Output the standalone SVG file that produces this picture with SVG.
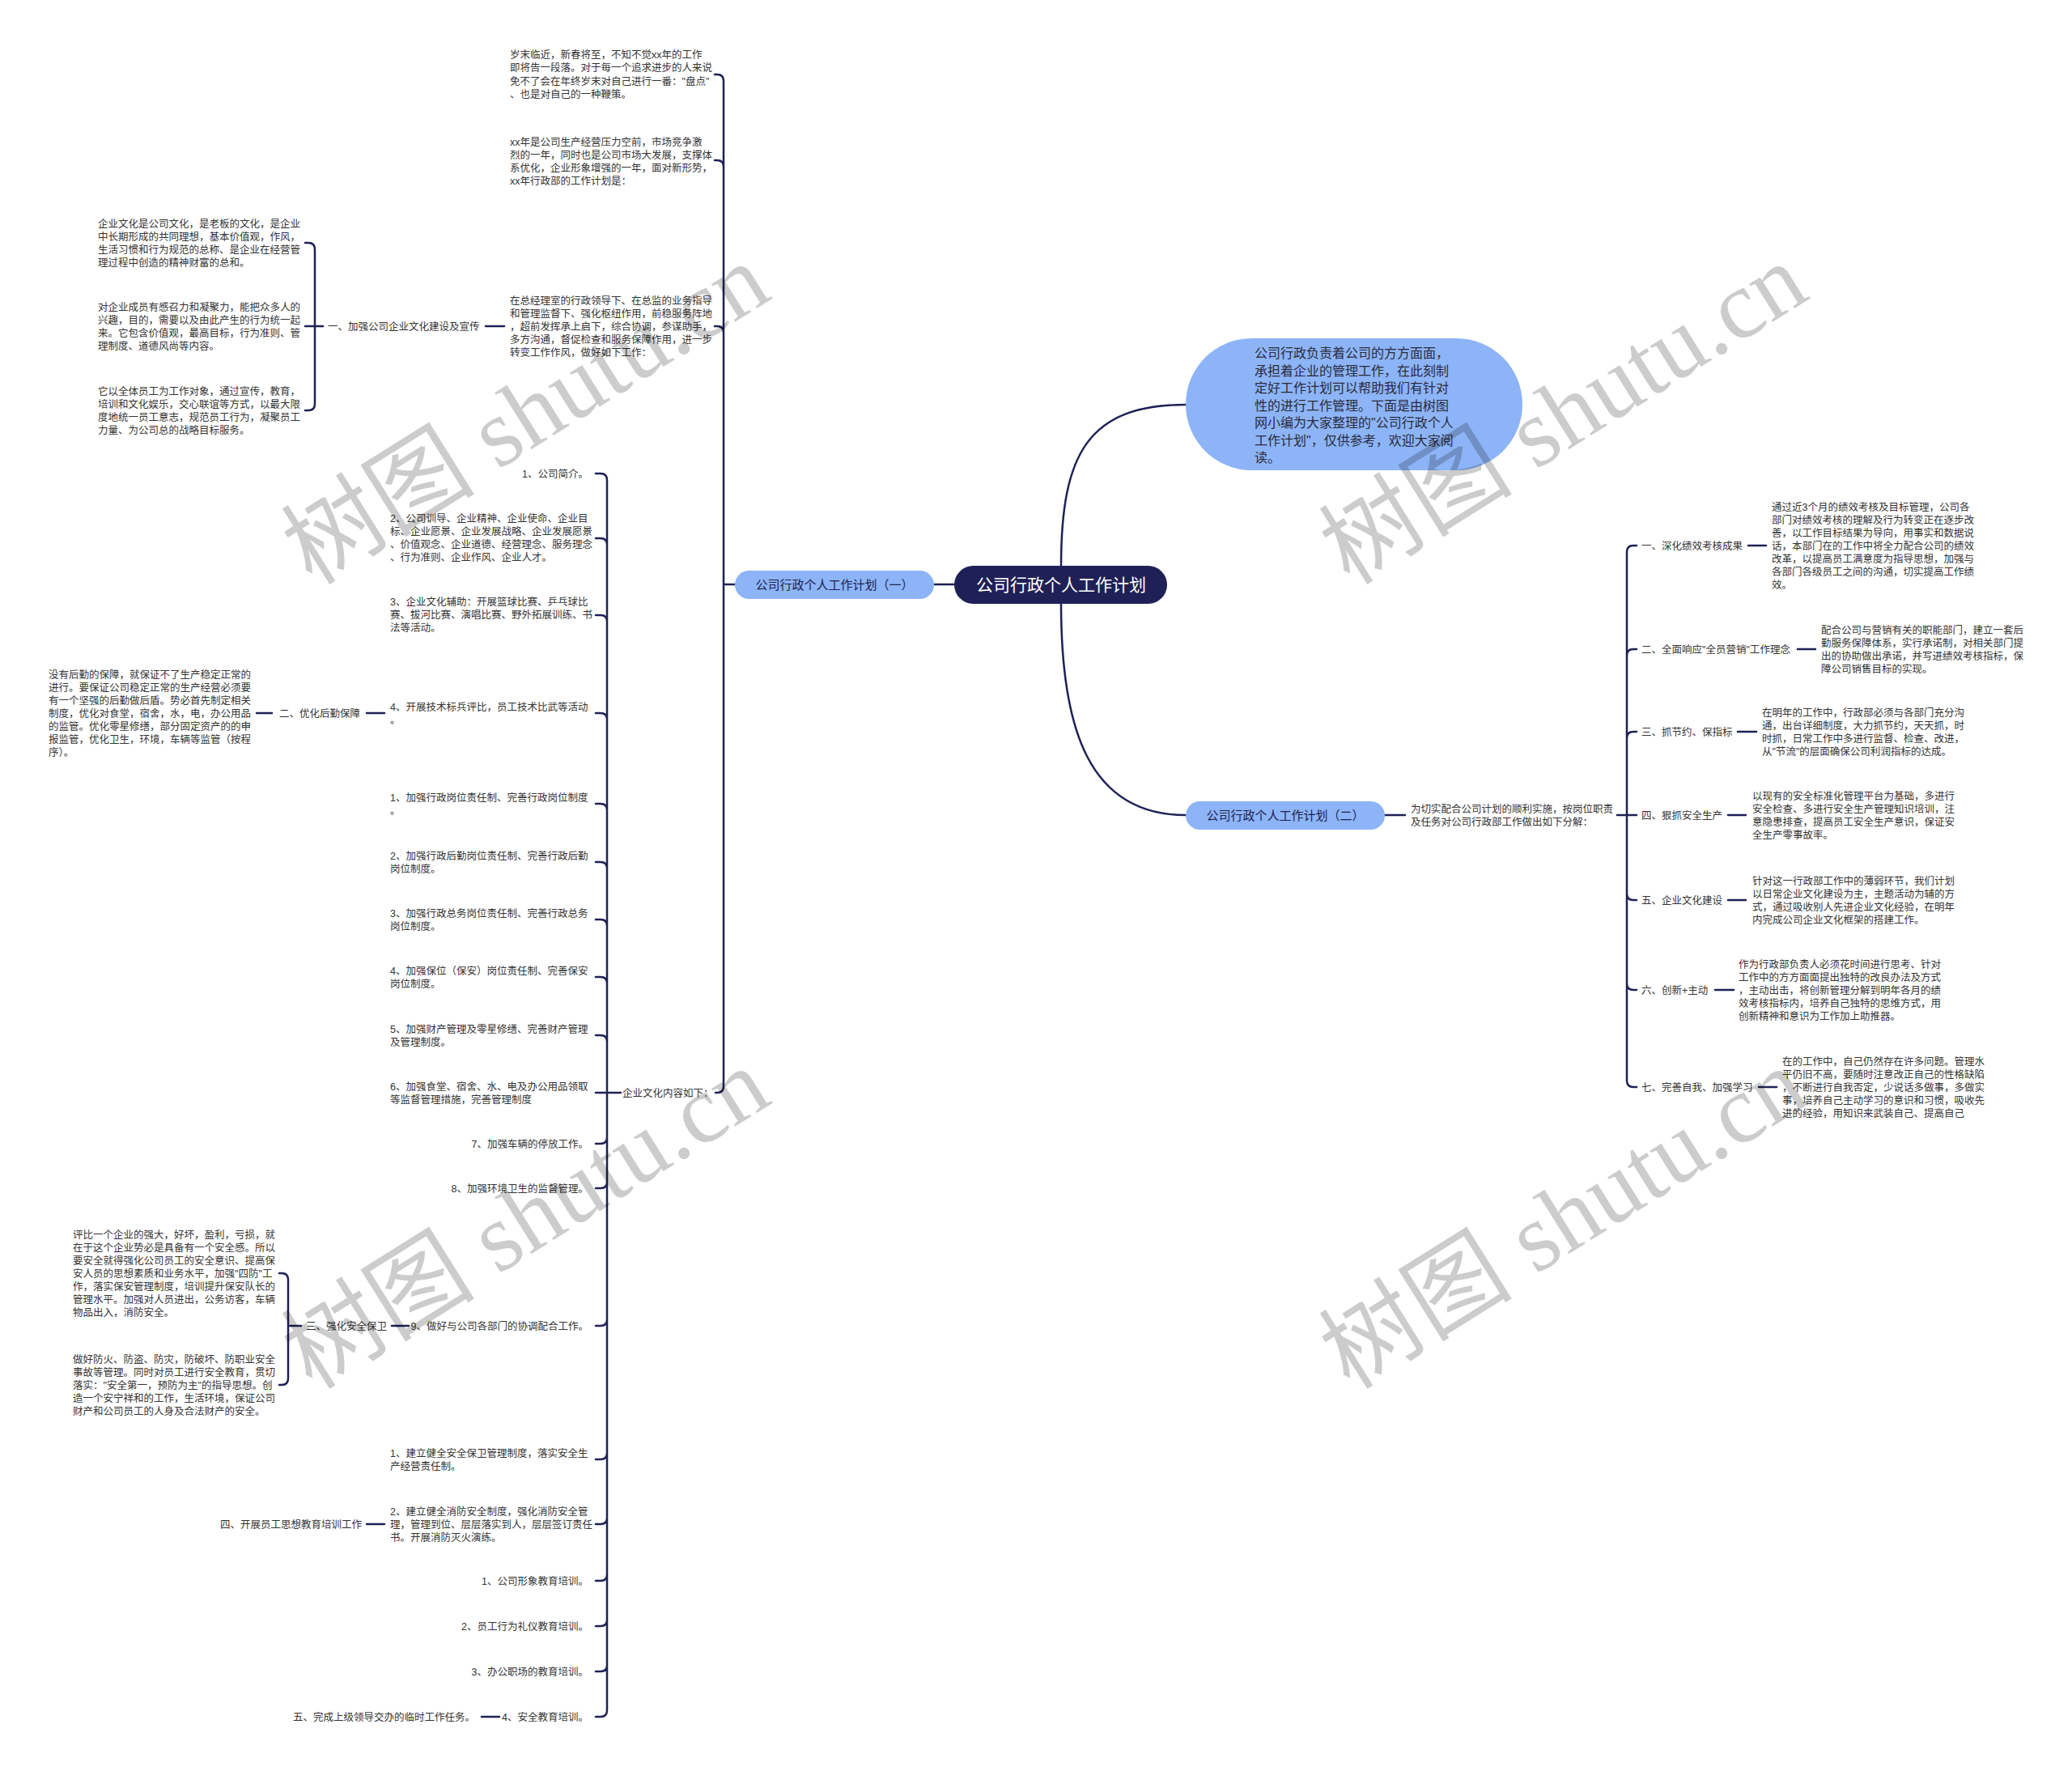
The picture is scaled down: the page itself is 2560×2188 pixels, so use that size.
<svg xmlns="http://www.w3.org/2000/svg" width="2560" height="2188" viewBox="0 0 2560 2188">
<style>
.t{font-family:"Liberation Sans","Noto Sans CJK SC",sans-serif;font-size:12.5px;fill:#333}
.e{text-anchor:end}
.c{fill:none;stroke:#1f2156;stroke-width:2.5;stroke-linecap:round}
.nt{font-family:"Liberation Sans","Noto Sans CJK SC",sans-serif;font-size:15px;fill:#20224f;text-anchor:middle}
.wm{font-family:"Liberation Serif","Noto Sans CJK SC",serif;font-size:120px;fill:#000;fill-opacity:0.2;text-anchor:middle}
</style>
<rect width="2560" height="2188" fill="#fff"/>
<g id="connectors">
<path class="c" d="M1311 699 C1311 560 1345 500 1465 500"/>
<path class="c" d="M1311 746 C1311 900 1345 1007 1465 1007"/>
<path class="c" d="M1179 722 H1154"/>
<path class="c" d="M908 722 H894 M894 722 V100 Q894 92 886 92 H883 M894 722 V206 Q894 198 886 198 H883 M894 722 V411 Q894 403 886 403 H883 M894 722 V1342 Q894 1350 886 1350 H884"/>
<path class="c" d="M623 403 H600"/>
<path class="c" d="M399 403 H389 M389 403 V308 Q389 300 381 300 H377 M389 403 H377 M389 403 V499 Q389 507 381 507 H377"/>
<path class="c" d="M767 1350 H750 M750 1350 V593 Q750 585 742 585 H736 M750 1350 V673 Q750 665 742 665 H736 M750 1350 V768 Q750 760 742 760 H736 M750 1350 V889 Q750 881 742 881 H736 M750 1350 V1001 Q750 993 742 993 H736 M750 1350 V1073 Q750 1065 742 1065 H736 M750 1350 V1144 Q750 1136 742 1136 H736 M750 1350 V1215 Q750 1207 742 1207 H736 M750 1350 V1287 Q750 1279 742 1279 H736 M750 1350 H736 M750 1350 V1405 Q750 1413 742 1413 H736 M750 1350 V1460 Q750 1468 742 1468 H736 M750 1350 V1630 Q750 1638 742 1638 H736 M750 1350 V1795 Q750 1803 742 1803 H736 M750 1350 V1875 Q750 1883 742 1883 H736 M750 1350 V1945 Q750 1953 742 1953 H736 M750 1350 V2001 Q750 2009 742 2009 H736 M750 1350 V2057 Q750 2065 742 2065 H736 M750 1350 V2113 Q750 2121 742 2121 H736"/>
<path class="c" d="M475 881 H453"/>
<path class="c" d="M336 881 H317"/>
<path class="c" d="M505 1638 H484"/>
<path class="c" d="M372 1638 H356 M356 1638 V1581 Q356 1573 348 1573 H345 M356 1638 V1703 Q356 1711 348 1711 H345"/>
<path class="c" d="M475 1883 H453"/>
<path class="c" d="M617 2121 H595"/>
<path class="c" d="M1711 1007 H1736"/>
<path class="c" d="M1998 1007 H2010 M2010 1007 V682 Q2010 674 2018 674 H2022 M2010 1007 V810 Q2010 802 2018 802 H2022 M2010 1007 V912 Q2010 904 2018 904 H2022 M2010 1007 H2022 M2010 1007 V1104 Q2010 1112 2018 1112 H2022 M2010 1007 V1215 Q2010 1223 2018 1223 H2022 M2010 1007 V1335 Q2010 1343 2018 1343 H2022"/>
<path class="c" d="M2160 674 H2182 M2221 802 H2243 M2147 904 H2170 M2135 1007 H2157 M2135 1112 H2157 M2119 1223 H2142 M2173 1343 H2195"/>
</g>
<g id="root">
<rect x="1179" y="699" width="263" height="47" rx="23.5" fill="#1f2156"/>
<text x="1311" y="729.5" font-family="Liberation Sans,Noto Sans CJK SC,sans-serif" font-size="21" fill="#fff" text-anchor="middle">公司行政个人工作计划</text>
</g>
<g id="intro">
<rect x="1465" y="418" width="416" height="163" rx="81.5" fill="#8cb4f7"/>
<text font-family="Liberation Sans,Noto Sans CJK SC,sans-serif" font-size="16" fill="#2a2a3a">
<tspan x="1550" y="442">公司行政负责着公司的方方面面，</tspan>
<tspan x="1550" y="463.5">承担着企业的管理工作，在此刻制</tspan>
<tspan x="1550" y="485">定好工作计划可以帮助我们有针对</tspan>
<tspan x="1550" y="506.5">性的进行工作管理。下面是由树图</tspan>
<tspan x="1550" y="528">网小编为大家整理的"公司行政个人</tspan>
<tspan x="1550" y="549.5">工作计划"，仅供参考，欢迎大家阅</tspan>
<tspan x="1550" y="571">读。</tspan>
</text>
</g>
<g id="plan1">
<rect x="908" y="705" width="246" height="35" rx="17.5" fill="#8cb4f7"/>
<text class="nt" x="1031" y="727.5">公司行政个人工作计划（一）</text>
</g>
<g id="plan2">
<rect x="1465" y="990" width="246" height="35" rx="17.5" fill="#8cb4f7"/>
<text class="nt" x="1588" y="1012.5">公司行政个人工作计划（二）</text>
</g>
<g id="p1-text1"><text class="t"><tspan x="630" y="71.5">岁末临近，新春将至，不知不觉xx年的工作</tspan><tspan x="630" y="88">即将告一段落。对于每一个追求进步的人来说</tspan><tspan x="630" y="104.5">免不了会在年终岁末对自己进行一番："盘点"</tspan><tspan x="630" y="121">、也是对自己的一种鞭策。</tspan></text></g>
<g id="p1-text2"><text class="t"><tspan x="630" y="179.5">xx年是公司生产经营压力空前，市场竞争激</tspan><tspan x="630" y="195.5">烈的一年，同时也是公司市场大发展，支撑体</tspan><tspan x="630" y="211.5">系优化，企业形象增强的一年，面对新形势，</tspan><tspan x="630" y="227.5">xx年行政部的工作计划是：</tspan></text></g>
<g id="p1-text3"><text class="t"><tspan x="630" y="375.5">在总经理室的行政领导下、在总监的业务指导</tspan><tspan x="630" y="391.5">和管理监督下、强化枢纽作用，前稳服务阵地</tspan><tspan x="630" y="407.5">，超前发挥承上启下，综合协调，参谋助手，</tspan><tspan x="630" y="423.5">多方沟通，督促检查和服务保障作用，进一步</tspan><tspan x="630" y="439.5">转变工作作风，做好如下工作：</tspan></text></g>
<g id="culture-label"><text class="t" x="405" y="407.5">一、加强公司企业文化建设及宣传</text></g>
<g id="culture-1"><text class="t"><tspan x="121" y="280.5">企业文化是公司文化，是老板的文化，是企业</tspan><tspan x="121" y="296.5">中长期形成的共同理想，基本价值观，作风，</tspan><tspan x="121" y="312.5">生活习惯和行为规范的总称、是企业在经营管</tspan><tspan x="121" y="328.5">理过程中创造的精神财富的总和。</tspan></text></g>
<g id="culture-2"><text class="t"><tspan x="121" y="383.5">对企业成员有感召力和凝聚力，能把众多人的</tspan><tspan x="121" y="399.5">兴趣，目的，需要以及由此产生的行为统一起</tspan><tspan x="121" y="415.5">来。它包含价值观，最高目标，行为准则、管</tspan><tspan x="121" y="431.5">理制度、道德风尚等内容。</tspan></text></g>
<g id="culture-3"><text class="t"><tspan x="121" y="487.5">它以全体员工为工作对象，通过宣传，教育，</tspan><tspan x="121" y="503.5">培训和文化娱乐，交心联谊等方式，以最大限</tspan><tspan x="121" y="519.5">度地统一员工意志，规范员工行为，凝聚员工</tspan><tspan x="121" y="535.5">力量、为公司总的战略目标服务。</tspan></text></g>
<g id="culture-content"><text class="t" x="769" y="1354.5">企业文化内容如下：</text></g>
<g id="item-a1"><text class="t e" x="727" y="589.5">1、公司简介。</text></g>
<g id="item-a2"><text class="t"><tspan x="482" y="644.5">2、公司训导、企业精神、企业使命、企业目</tspan><tspan x="482" y="660.5">标、企业愿景、企业发展战略、企业发展愿景</tspan><tspan x="482" y="676.5">、价值观念、企业道德、经营理念、服务理念</tspan><tspan x="482" y="692.5">、行为准则、企业作风、企业人才。</tspan></text></g>
<g id="item-a3"><text class="t"><tspan x="482" y="747.5">3、企业文化辅助：开展篮球比赛、乒乓球比</tspan><tspan x="482" y="763.5">赛、拔河比赛、演唱比赛、野外拓展训练、书</tspan><tspan x="482" y="779.5">法等活动。</tspan></text></g>
<g id="item-a4"><text class="t"><tspan x="482" y="877.5">4、开展技术标兵评比，员工技术比武等活动</tspan><tspan x="482" y="893.5">。</tspan></text></g>
<g id="logistics-label"><text class="t" x="345" y="885.5">二、优化后勤保障</text></g>
<g id="logistics-text"><text class="t"><tspan x="60" y="837.5">没有后勤的保障，就保证不了生产稳定正常的</tspan><tspan x="60" y="853.5">进行。要保证公司稳定正常的生产经营必须要</tspan><tspan x="60" y="869.5">有一个坚强的后勤做后盾。势必首先制定相关</tspan><tspan x="60" y="885.5">制度，优化对食堂，宿舍，水，电，办公用品</tspan><tspan x="60" y="901.5">的监管。优化零星修缮，部分固定资产的的申</tspan><tspan x="60" y="917.5">报监管，优化卫生，环境，车辆等监管（按程</tspan><tspan x="60" y="933.5">序）。</tspan></text></g>
<g id="item-b1"><text class="t"><tspan x="482" y="989.5">1、加强行政岗位责任制、完善行政岗位制度</tspan><tspan x="482" y="1005.5">。</tspan></text></g>
<g id="item-b2"><text class="t"><tspan x="482" y="1061.5">2、加强行政后勤岗位责任制、完善行政后勤</tspan><tspan x="482" y="1077.5">岗位制度。</tspan></text></g>
<g id="item-b3"><text class="t"><tspan x="482" y="1132.5">3、加强行政总务岗位责任制、完善行政总务</tspan><tspan x="482" y="1148.5">岗位制度。</tspan></text></g>
<g id="item-b4"><text class="t"><tspan x="482" y="1203.5">4、加强保位（保安）岗位责任制、完善保安</tspan><tspan x="482" y="1219.5">岗位制度。</tspan></text></g>
<g id="item-b5"><text class="t"><tspan x="482" y="1275.5">5、加强财产管理及零星修缮、完善财产管理</tspan><tspan x="482" y="1291.5">及管理制度。</tspan></text></g>
<g id="item-b6"><text class="t"><tspan x="482" y="1346.5">6、加强食堂、宿舍、水、电及办公用品领取</tspan><tspan x="482" y="1362.5">等监督管理措施，完善管理制度</tspan></text></g>
<g id="item-b7"><text class="t e" x="727" y="1417.5">7、加强车辆的停放工作。</text></g>
<g id="item-b8"><text class="t e" x="727" y="1472.5">8、加强环境卫生的监督管理。</text></g>
<g id="item-b9"><text class="t e" x="727" y="1642.5">9、做好与公司各部门的协调配合工作。</text></g>
<g id="security-label"><text class="t" x="378" y="1642.5">三、强化安全保卫</text></g>
<g id="security-1"><text class="t"><tspan x="90" y="1529.5">评比一个企业的强大，好坏，盈利，亏损，就</tspan><tspan x="90" y="1545.5">在于这个企业势必是具备有一个安全感。所以</tspan><tspan x="90" y="1561.5">要安全就得强化公司员工的安全意识、提高保</tspan><tspan x="90" y="1577.5">安人员的思想素质和业务水平，加强"四防"工</tspan><tspan x="90" y="1593.5">作，落实保安管理制度，培训提升保安队长的</tspan><tspan x="90" y="1609.5">管理水平。加强对人员进出，公务访客，车辆</tspan><tspan x="90" y="1625.5">物品出入，消防安全。</tspan></text></g>
<g id="security-2"><text class="t"><tspan x="90" y="1683.5">做好防火、防盗、防灾，防破坏、防职业安全</tspan><tspan x="90" y="1699.5">事故等管理。同时对员工进行安全教育，贯切</tspan><tspan x="90" y="1715.5">落实："安全第一，预防为主"的指导思想。创</tspan><tspan x="90" y="1731.5">造一个安宁祥和的工作，生活环境，保证公司</tspan><tspan x="90" y="1747.5">财产和公司员工的人身及合法财产的安全。</tspan></text></g>
<g id="item-c1"><text class="t"><tspan x="482" y="1799.5">1、建立健全安全保卫管理制度，落实安全生</tspan><tspan x="482" y="1815.5">产经营责任制。</tspan></text></g>
<g id="item-c2"><text class="t"><tspan x="482" y="1871.5">2、建立健全消防安全制度，强化消防安全管</tspan><tspan x="482" y="1887.5">理，管理到位、层层落实到人，层层签订责任</tspan><tspan x="482" y="1903.5">书。开展消防灭火演练。</tspan></text></g>
<g id="training-label"><text class="t" x="272" y="1887.5">四、开展员工思想教育培训工作</text></g>
<g id="item-d1"><text class="t e" x="727" y="1957.5">1、公司形象教育培训。</text></g>
<g id="item-d2"><text class="t e" x="727" y="2013.5">2、员工行为礼仪教育培训。</text></g>
<g id="item-d3"><text class="t e" x="727" y="2069.5">3、办公职场的教育培训。</text></g>
<g id="item-d4"><text class="t e" x="727" y="2125.5">4、安全教育培训。</text></g>
<g id="task-label"><text class="t" x="362" y="2125.5">五、完成上级领导交办的临时工作任务。</text></g>
<g id="p2-text"><text class="t"><tspan x="1743" y="1003.5">为切实配合公司计划的顺利实施，按岗位职责</tspan><tspan x="1743" y="1019.5">及任务对公司行政部工作做出如下分解：</tspan></text></g>
<g id="r1"><text class="t" x="2028" y="678.5">一、深化绩效考核成果</text><text class="t"><tspan x="2189" y="630.5">通过近3个月的绩效考核及目标管理，公司各</tspan><tspan x="2189" y="646.5">部门对绩效考核的理解及行为转变正在逐步改</tspan><tspan x="2189" y="662.5">善，以工作目标结果为导向，用事实和数据说</tspan><tspan x="2189" y="678.5">话，本部门在的工作中将全力配合公司的绩效</tspan><tspan x="2189" y="694.5">改革，以提高员工满意度为指导思想，加强与</tspan><tspan x="2189" y="710.5">各部门各级员工之间的沟通，切实提高工作绩</tspan><tspan x="2189" y="726.5">效。</tspan></text></g>
<g id="r2"><text class="t" x="2028" y="806.5">二、全面响应"全员营销"工作理念</text><text class="t"><tspan x="2250" y="782.5">配合公司与营销有关的职能部门，建立一套后</tspan><tspan x="2250" y="798.5">勤服务保障体系，实行承诺制，对相关部门提</tspan><tspan x="2250" y="814.5">出的协助做出承诺，并写进绩效考核指标，保</tspan><tspan x="2250" y="830.5">障公司销售目标的实现。</tspan></text></g>
<g id="r3"><text class="t" x="2028" y="908.5">三、抓节约、保指标</text><text class="t"><tspan x="2177" y="884.5">在明年的工作中，行政部必须与各部门充分沟</tspan><tspan x="2177" y="900.5">通，出台详细制度，大力抓节约，天天抓，时</tspan><tspan x="2177" y="916.5">时抓，日常工作中多进行监督、检查、改进，</tspan><tspan x="2177" y="932.5">从"节流"的层面确保公司利润指标的达成。</tspan></text></g>
<g id="r4"><text class="t" x="2028" y="1011.5">四、狠抓安全生产</text><text class="t"><tspan x="2165" y="987.5">以现有的安全标准化管理平台为基础，多进行</tspan><tspan x="2165" y="1003.5">安全检查、多进行安全生产管理知识培训，注</tspan><tspan x="2165" y="1019.5">意隐患排查，提高员工安全生产意识，保证安</tspan><tspan x="2165" y="1035.5">全生产零事故率。</tspan></text></g>
<g id="r5"><text class="t" x="2028" y="1116.5">五、企业文化建设</text><text class="t"><tspan x="2165" y="1092.5">针对这一行政部工作中的薄弱环节，我们计划</tspan><tspan x="2165" y="1108.5">以日常企业文化建设为主，主题活动为辅的方</tspan><tspan x="2165" y="1124.5">式，通过吸收别人先进企业文化经验，在明年</tspan><tspan x="2165" y="1140.5">内完成公司企业文化框架的搭建工作。</tspan></text></g>
<g id="r6"><text class="t" x="2028" y="1227.5">六、创新+主动</text><text class="t"><tspan x="2148" y="1195.5">作为行政部负责人必须花时间进行思考、针对</tspan><tspan x="2148" y="1211.5">工作中的方方面面提出独特的改良办法及方式</tspan><tspan x="2148" y="1227.5">，主动出击，将创新管理分解到明年各月的绩</tspan><tspan x="2148" y="1243.5">效考核指标内，培养自己独特的思维方式，用</tspan><tspan x="2148" y="1259.5">创新精神和意识为工作加上助推器。</tspan></text></g>
<g id="r7"><text class="t" x="2028" y="1347.5">七、完善自我、加强学习</text><text class="t"><tspan x="2202" y="1315.5">在的工作中，自己仍然存在许多问题。管理水</tspan><tspan x="2202" y="1331.5">平仍旧不高，要随时注意改正自己的性格缺陷</tspan><tspan x="2202" y="1347.5">，不断进行自我否定，少说话多做事，多做实</tspan><tspan x="2202" y="1363.5">事，培养自己主动学习的意识和习惯，吸收先</tspan><tspan x="2202" y="1379.5">进的经验，用知识来武装自己、提高自己</tspan></text></g>
<g id="watermarks">
<text class="wm" transform="translate(650,512) rotate(-32)" dy="40">树图 shutu.cn</text>
<text class="wm" transform="translate(1932,512) rotate(-32)" dy="40">树图 shutu.cn</text>
<text class="wm" transform="translate(650,1506) rotate(-32)" dy="40">树图 shutu.cn</text>
<text class="wm" transform="translate(1932,1506) rotate(-32)" dy="40">树图 shutu.cn</text>
</g>
</svg>
